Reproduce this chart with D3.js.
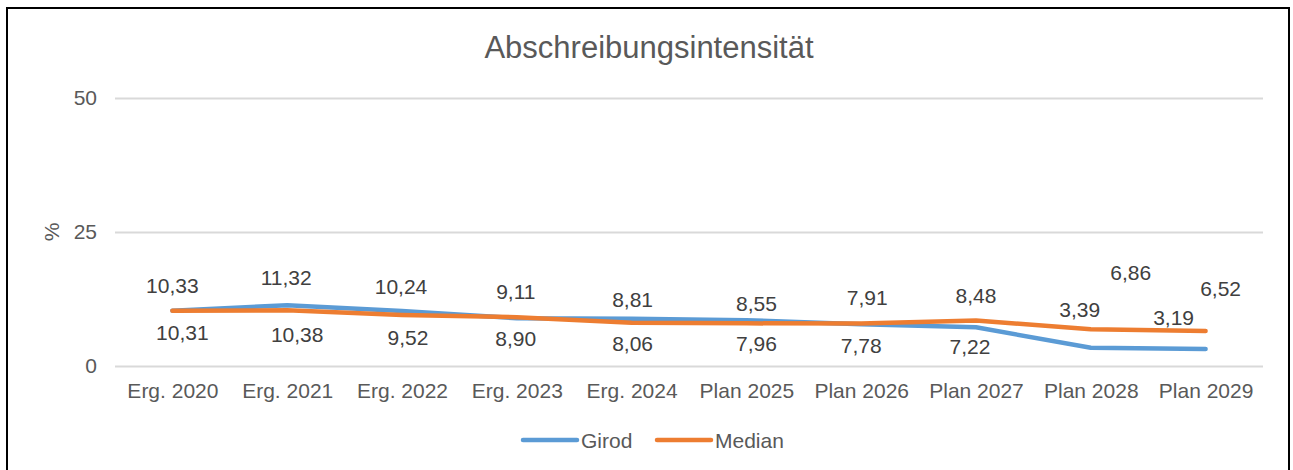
<!DOCTYPE html>
<html>
<head>
<meta charset="utf-8">
<script src="https://cdn.jsdelivr.net/npm/d3@7"></script>
<style>
  body { margin: 0; background: #fff; }
  svg text { font-family: "Liberation Sans", Arial, sans-serif; }
</style>
</head>
<body>
<div id="chart"></div>
<script>
// chart values
const categories = ['Erg. 2020', 'Erg. 2021', 'Erg. 2022', 'Erg. 2023', 'Erg. 2024',
  'Plan 2025', 'Plan 2026', 'Plan 2027', 'Plan 2028', 'Plan 2029']
const girod = [10.33, 11.32, 10.24, 8.90, 8.81, 8.55, 7.78, 7.22, 3.39, 3.19]
const median = [10.31, 10.38, 9.52, 9.11, 8.06, 7.96, 7.91, 8.48, 6.86, 6.52]
const yTicks = [0, 25, 50]
const title = 'Abschreibungsintensität'
const yLabel = '%'

// label nudges (px) as placed in the original
const girodNudge = [[0, -25], [-1, -28], [-1, -25], [-1, 20], [1, -19], [10, -17], [0, 21], [-6, 19], [-11, -38], [-32, -31]]
const medianNudge = [[10, 22], [10, 24], [6, 23], [-1, -26], [1, 21], [10, 20], [6, -26], [0, -25], [40, -57], [15, -43]]

const W = 1293, H = 470
const plotL = 115, plotR = 1263, plotT = 98, plotB = 366

let svg = d3.select('#chart')
  .append('svg')
  .attr('width', W)
  .attr('height', H)

svg.append('rect')
  .attr('x', 7).attr('y', 8)
  .attr('width', 1282).attr('height', 480)
  .attr('fill', '#fff')
  .attr('stroke', '#000')
  .attr('stroke-width', 2)

let x = d3.scalePoint()
  .domain(categories)
  .range([plotL, plotR])
  .padding(0.5)

let y = d3.scaleLinear()
  .domain([0, 50])
  .range([plotB, plotT])

// grid + y labels
let yAxis = svg.append('g')
  .attr('transform', `translate(${plotL},0)`)
  .call(d3.axisLeft(y).tickValues(yTicks).tickSize(-(plotR - plotL)).tickPadding(18).tickFormat(d3.format('d')))
yAxis.select('.domain').remove()
yAxis.selectAll('line').attr('stroke', '#d9d9d9').attr('stroke-width', 2)
yAxis.selectAll('text').attr('fill', '#595959').style('font-size', '21px')

// x labels
let xAxis = svg.append('g')
  .attr('transform', `translate(0,${plotB})`)
  .call(d3.axisBottom(x).tickSize(0).tickPadding(17))
xAxis.select('.domain').remove()
xAxis.selectAll('text').attr('fill', '#595959').style('font-size', '21px')

svg.append('text')
  .attr('transform', `translate(51,${y(25)}) rotate(-90)`)
  .attr('text-anchor', 'middle')
  .attr('dominant-baseline', 'central')
  .attr('fill', '#595959')
  .style('font-size', '21px')
  .text(yLabel)

svg.append('text')
  .attr('x', 649).attr('y', 47)
  .attr('text-anchor', 'middle')
  .attr('dominant-baseline', 'central')
  .attr('fill', '#595959')
  .style('font-size', '31px')
  .text(title)

const series = [
  { name: 'Girod', values: girod, color: '#5b9bd5', nudge: girodNudge },
  { name: 'Median', values: median, color: '#ed7d31', nudge: medianNudge }
]

let line = d3.line()
  .x((d, i) => x(categories[i]))
  .y(d => y(d))

svg.append('g').selectAll('path')
  .data(series)
  .enter()
  .append('path')
  .attr('d', d => line(d.values))
  .attr('fill', 'none')
  .attr('stroke', d => d.color)
  .attr('stroke-width', 4.5)
  .attr('stroke-linecap', 'round')
  .attr('stroke-linejoin', 'round')

let fmt = v => d3.format('.2f')(v).replace('.', ',')

series.forEach(s => {
  svg.append('g').selectAll('text')
    .data(s.values)
    .enter()
    .append('text')
    .attr('x', (d, i) => x(categories[i]) + s.nudge[i][0])
    .attr('y', (d, i) => y(d) + s.nudge[i][1])
    .attr('text-anchor', 'middle')
    .attr('dominant-baseline', 'central')
    .attr('fill', '#404040')
    .style('font-size', '21px')
    .text(fmt)
})

// legend
let legend = svg.append('g').selectAll('g')
  .data(series)
  .enter()
  .append('g')
  .attr('transform', (d, i) => `translate(${523 + i * 134},440)`)

legend.append('line')
  .attr('x1', 0).attr('x2', 54)
  .attr('stroke', d => d.color)
  .attr('stroke-width', 4.5)
  .attr('stroke-linecap', 'round')

legend.append('text')
  .attr('x', 58)
  .attr('dominant-baseline', 'central')
  .attr('fill', '#595959')
  .style('font-size', '21px')
  .text(d => d.name)
</script>
</body>
</html>
